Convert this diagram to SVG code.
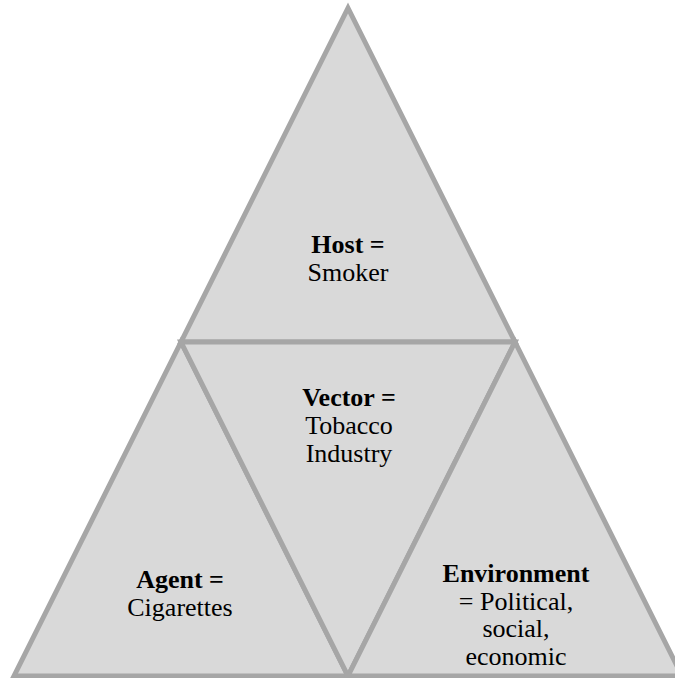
<svg xmlns="http://www.w3.org/2000/svg" width="675" height="678" viewBox="0 0 675 678">
<style>
.tri{fill:#d9d9d9;stroke:#a6a6a6;stroke-width:5;stroke-linejoin:miter}
text{font-family:"Liberation Serif","Times New Roman",serif;font-size:26px;fill:#000;text-anchor:middle}
.b{font-weight:bold}
</style>
<rect width="675" height="678" fill="#ffffff"/>
<g id="host">
<polygon class="tri" points="348,8 515,342 181,342"/>
<text x="348" y="253"><tspan class="b">Host =</tspan></text>
<text x="348" y="281">Smoker</text>
</g>
<g id="agent">
<polygon class="tri" points="181,342 348,676 14,676"/>
<text x="180" y="588"><tspan class="b">Agent =</tspan></text>
<text x="180" y="616">Cigarettes</text>
</g>
<g id="vector">
<polygon class="tri" points="181,342 515,342 348,676"/>
<text x="349" y="406"><tspan class="b">Vector =</tspan></text>
<text x="349" y="434">Tobacco</text>
<text x="349" y="462">Industry</text>
</g>
<g id="environment">
<polygon class="tri" points="515,342 682,676 348,676"/>
<text x="516" y="582" class="b">Environment</text>
<text x="516" y="610">= Political,</text>
<text x="516" y="637">social,</text>
<text x="516" y="665">economic</text>
</g>
<g id="connectors"></g>
</svg>
